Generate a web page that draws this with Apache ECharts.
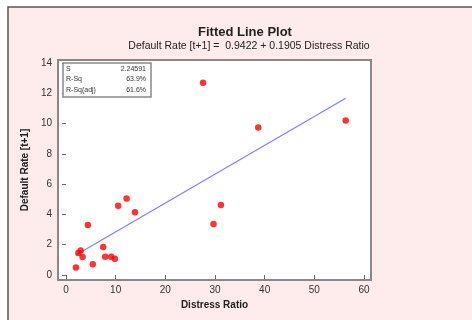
<!DOCTYPE html>
<html><head><meta charset="utf-8">
<script src="https://cdn.jsdelivr.net/npm/echarts@6/dist/echarts.min.js"></script>
<style>html,body{margin:0;padding:0;background:#fff}#c{width:472px;height:320px}</style>
</head><body><div id="c"></div>
<script>
const distressRatio = [2.0, 2.5, 2.95, 3.35, 4.4, 5.4, 7.5, 7.9, 9.1, 9.85, 10.5, 12.2, 13.9, 27.6, 29.7, 31.2, 38.7, 56.3];
const defaultRate   = [0.5, 1.45, 1.62, 1.19, 3.3, 0.71, 1.85, 1.2, 1.2, 1.08, 4.58, 5.06, 4.14, 12.7, 3.37, 4.62, 9.75, 10.2];
const xTicks = [0, 10, 20, 30, 40, 50, 60];
const yTicks = [0, 2, 4, 6, 8, 10, 12, 14];
const intercept = 0.9422, slope = 0.1905;
const statLabels = ['S', 'R-Sq', 'R-Sq(adj)'];
const statValues = ['2.24591', '63.9%', '61.6%'];

const pts = distressRatio.map((x, i) => [x, defaultRate[i]]);
const xmin = Math.min(...distressRatio), xmax = Math.max(...distressRatio);
const fitLine = [[xmin, intercept + slope * xmin], [xmax, intercept + slope * xmax]];

const FONT = 'Liberation Sans';
const chart = echarts.init(document.getElementById('c'));
const statGraphics = [];
statLabels.forEach((t, i) => {
  const y = 69 + i * 10.5;
  statGraphics.push({type:'text', z:11, style:{x:66, y:y, text:t, font:'7px ' + FONT, fill:'#333', textVerticalAlign:'middle'}});
  statGraphics.push({type:'text', z:11, style:{x:146, y:y, text:statValues[i], font:'7px ' + FONT, fill:'#333', textAlign:'right', textVerticalAlign:'middle'}});
});
chart.setOption({
  animation: false,
  backgroundColor: '#ffffff',
  graphic: [
    {type:'rect', z:-10, shape:{x:8, y:7, width:700, height:500}, style:{fill:'#fdeceb', stroke:'#555', lineWidth:1.5}},
    {type:'rect', z:10, shape:{x:63, y:63, width:88, height:34}, style:{fill:'#fff', stroke:'#888', lineWidth:1.5}},
    ...statGraphics
  ],
  title: [
    {text:'Fitted Line Plot', left: 240, textAlign:'center', top: 21,
     textStyle:{fontFamily:FONT, fontSize:13, fontWeight:'bold', color:'#222'}},
    {text:'Default Rate [t+1] =  0.9422 + 0.1905 Distress Ratio', left: 244, textAlign:'center', top: 36,
     textStyle:{fontFamily:FONT, fontSize:10.5, fontWeight:'normal', color:'#222'}}
  ],
  grid: {left:58, top:60, width:313, height:220, show:true, backgroundColor:'#fff', borderColor:'#888', borderWidth:2},
  xAxis: {
    type:'value', min:-1.6, max:61.4,
    name:'Distress Ratio', nameLocation:'middle', nameGap:16,
    nameTextStyle:{fontFamily:FONT, fontSize:10, fontWeight:'bold', color:'#222'},
    axisLine:{show:false}, splitLine:{show:false},
    axisTick:{show:true, length:4, customValues:xTicks, lineStyle:{color:'#666'}},
    axisLabel:{customValues:xTicks, margin:5, fontFamily:FONT, fontSize:10, color:'#333'}
  },
  yAxis: {
    type:'value', min:-0.33, max:14.2,
    name:'Default Rate [t+1]', nameLocation:'middle', nameGap:24,
    nameTextStyle:{fontFamily:FONT, fontSize:10, fontWeight:'bold', color:'#222'},
    axisLine:{show:false}, splitLine:{show:false},
    axisTick:{show:true, length:4, customValues:yTicks, lineStyle:{color:'#666'}},
    axisLabel:{customValues:yTicks, margin:6, fontFamily:FONT, fontSize:10, color:'#333'}
  },
  series: [
    {type:'line', data:fitLine, showSymbol:false, lineStyle:{color:'#7f7fff', width:1.2}, z:2},
    {type:'scatter', data:pts, symbol:'circle', symbolSize:6.5, itemStyle:{color:'#ff0000'}, z:3}
  ]
});
</script></body></html>
